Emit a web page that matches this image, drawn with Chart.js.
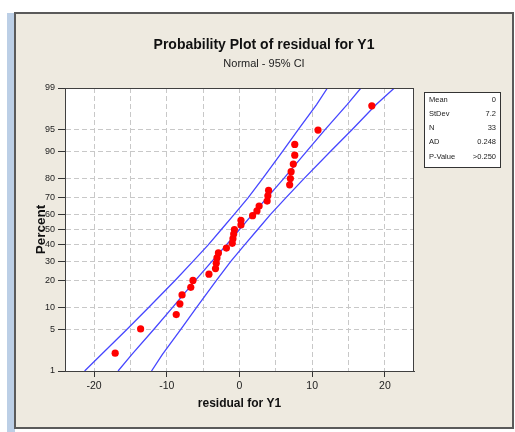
<!DOCTYPE html>
<html>
<head>
<meta charset="utf-8">
<script src="https://cdn.jsdelivr.net/npm/chart.js@4.4.0/dist/chart.umd.min.js"></script>
<style>
  html, body { margin: 0; padding: 0; background: #fff; }
  #wrap { width: 515px; height: 432px; }
</style>
</head>
<body>
<div id="wrap"><canvas id="plot" width="515" height="432"></canvas></div>
<script>
// ordered residuals and the percent each one is plotted at
const residuals = [-17.1, -13.6, -8.7, -8.2, -7.9, -6.7, -6.4, -4.2, -3.3, -3.2, -3.1, -2.9, -1.8, -1.0, -0.9, -0.8, -0.7,
  0.2, 0.2, 1.8, 2.4, 2.7, 3.8, 3.9, 4.0, 6.9, 7.0, 7.1, 7.4, 7.6, 7.6, 10.8, 18.2];
const percents = [2.1, 5.1, 8.1, 11.1, 14.1, 17.1, 20.1, 23.1, 26.0, 29.0, 32.0, 35.0, 38.0, 41.0, 44.0, 47.0, 50.0,
  53.0, 56.0, 59.0, 62.0, 65.0, 68.0, 71.0, 74.0, 76.9, 79.9, 82.9, 85.9, 88.9, 91.9, 94.9, 97.9];

// fitted line and 95% CI band, read at these percents
const linePercents = [1, 2, 5, 10, 20, 30, 40, 50, 60, 70, 80, 90, 95, 98, 99];
const fitLine = [-16.7, -14.8, -11.8, -9.2, -6.1, -3.8, -1.8, 0, 1.8, 3.8, 6.1, 9.2, 11.8, 14.8, 16.7];
const ciLower = [-21.3, -19.0, -15.5, -12.5, -8.9, -6.4, -4.3, -2.5, -0.7, 1.2, 3.2, 5.9, 8.1, 10.6, 12.1];
const ciUpper = [-12.1, -10.6, -8.1, -5.9, -3.2, -1.2, 0.7, 2.5, 4.3, 6.4, 8.9, 12.5, 15.5, 18.8, 21.3];

const percentTicks = [1, 5, 10, 20, 30, 40, 50, 60, 70, 80, 90, 95, 99];
const residualTicks = [-20, -15, -10, -5, 0, 5, 10, 15, 20];
const residualLabels = [-20, -10, 0, 10, 20];

const statLabels = ['Mean', 'StDev', 'N', 'AD', 'P-Value'];
const statValues = ['0', '7.2', '33', '0.248', '>0.250'];

const FONT = "'Liberation Sans', Arial, sans-serif";

// normal probability scale: percent -> z
function probit(p) {
  const q = p / 100;
  const r = q < 0.5 ? q : 1 - q;
  const t = Math.sqrt(-2 * Math.log(r));
  const z = t - (2.515517 + 0.802853 * t + 0.010328 * t * t) /
    (1 + 1.432788 * t + 0.189269 * t * t + 0.001308 * t * t * t);
  return q < 0.5 ? -z : z;
}

const toPoints = (xs, ps) => xs.map((x, i) => ({ x: x, y: probit(ps[i]) }));

const framePlugin = {
  id: 'frame',
  beforeDraw(chart) {
    const ctx = chart.ctx, a = chart.chartArea;
    ctx.save();
    ctx.fillStyle = '#fff';
    ctx.fillRect(0, 0, chart.width, chart.height);
    ctx.fillStyle = '#bccfe6';
    ctx.fillRect(7, 13, 8, chart.height - 13);
    ctx.fillStyle = '#eeeae0';
    ctx.fillRect(15, 13, 498, 415);
    ctx.strokeStyle = '#5a5a5a';
    ctx.lineWidth = 2;
    ctx.strokeRect(15, 13, 498, 415);
    ctx.fillStyle = '#fff';
    ctx.fillRect(a.left, a.top, a.right - a.left, a.bottom - a.top);
    ctx.restore();
  },
  afterDraw(chart) {
    const ctx = chart.ctx, a = chart.chartArea;
    ctx.save();
    ctx.strokeStyle = '#404040';
    ctx.lineWidth = 1;
    ctx.strokeRect(a.left + 0.5, a.top + 0.5, a.right - a.left - 1, a.bottom - a.top);
    // stats table
    const bx = 424, by = 92, bw = 76, bh = 75;
    ctx.fillStyle = '#fff';
    ctx.fillRect(bx, by, bw, bh);
    ctx.strokeStyle = '#333';
    ctx.strokeRect(bx + 0.5, by + 0.5, bw, bh);
    ctx.fillStyle = '#222';
    ctx.font = '7.5px ' + FONT;
    ctx.textBaseline = 'middle';
    statLabels.forEach((l, i) => {
      const y = by + 7.5 + i * 14.3;
      ctx.textAlign = 'left';
      ctx.fillText(l, bx + 5, y);
      ctx.textAlign = 'right';
      ctx.fillText(statValues[i], bx + bw - 4, y);
    });
    ctx.restore();
  }
};

const line = (label, xs) => ({
  label: label, data: toPoints(xs, linePercents), showLine: true,
  borderColor: '#4646ff', backgroundColor: '#4646ff', borderWidth: 1.3, pointRadius: 0, fill: false, tension: 0,
  xAxisID: 'x', yAxisID: 'y'
});

new Chart(document.getElementById('plot'), {
  type: 'scatter',
  data: {
    datasets: [
      { label: 'residual', data: toPoints(residuals, percents), backgroundColor: '#ff0000', borderWidth: 0, pointRadius: 3.6,
        xAxisID: 'x', yAxisID: 'y' },
      line('fit', fitLine),
      line('lower', ciLower),
      line('upper', ciUpper)
    ]
  },
  options: {
    responsive: false,
    animation: false,
    layout: { padding: { left: 13, right: 0, top: 0, bottom: 17 } },
    plugins: {
      legend: { display: false },
      tooltip: { enabled: false },
      title: {
        display: true, text: 'Probability Plot of residual for Y1', color: '#111',
        font: { family: FONT, size: 14, weight: 'bold' }, padding: { top: 37, bottom: 0 }
      },
      subtitle: {
        display: true, text: 'Normal - 95% CI', color: '#222',
        font: { family: FONT, size: 11 }, padding: { top: 4, bottom: 17 }
      }
    },
    scales: {
      x: {
        type: 'linear', min: -24, max: 24,
        afterBuildTicks: s => { s.ticks = residualTicks.map(v => ({ value: v })); },
        afterFit: s => { s.height = 44; },
        ticks: {
          autoSkip: false, maxRotation: 0, padding: 3, color: '#222',
          font: { family: FONT, size: 10.5 },
          callback: v => residualLabels.includes(v) ? String(v) : ''
        },
        grid: {
          color: '#c8c8c8', tickLength: 6,
          tickColor: c => (c.tick && residualLabels.includes(c.tick.value)) ? '#333' : 'rgba(0,0,0,0)'
        },
        border: { color: '#404040', dash: [5, 3] },
        title: {
          display: true, text: 'residual for Y1', color: '#111',
          font: { family: FONT, size: 12, weight: 'bold' }, padding: { top: 4, bottom: 4 }
        }
      },
      y: {
        type: 'linear', min: probit(1), max: probit(99),
        afterBuildTicks: s => { s.ticks = percentTicks.map(p => ({ value: probit(p) })); },
        afterFit: s => { s.width = 52; },
        ticks: {
          autoSkip: false, padding: 3, color: '#222',
          font: { family: FONT, size: 9 },
          callback: (v, i) => String(percentTicks[i])
        },
        grid: { color: '#c8c8c8', tickLength: 7, tickColor: '#333' },
        border: { color: '#404040', dash: [5, 3] },
        title: {
          display: true, text: 'Percent', color: '#111',
          font: { family: FONT, size: 13.5, weight: 'bold' }, padding: { top: 20, bottom: 0 }
        }
      },
      side: {
        type: 'linear', position: 'right', display: true,
        afterFit: s => { s.width = 101; },
        ticks: { display: false },
        grid: { drawOnChartArea: false, drawTicks: false },
        border: { display: false }
      }
    }
  },
  plugins: [framePlugin]
});
</script>
</body>
</html>
